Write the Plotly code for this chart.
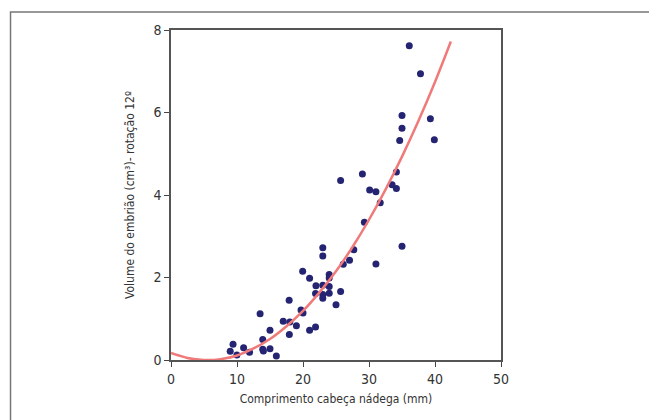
import plotly.graph_objects as go

# Scatter data: crown-rump length (mm) vs embryo volume (cm3)
crl_mm = [36.1, 37.8, 35.0, 39.3, 35.0, 34.65, 39.9, 34.15, 33.5, 34.15,
          29.0, 25.7, 30.1, 31.05, 31.7, 29.3, 27.7, 27.05, 26.1, 31.05,
          35.0, 23.0, 23.0, 19.95, 21.0, 23.97, 23.97, 21.96, 23.0, 23.97,
          23.97, 23.0, 23.0, 21.9, 25.7, 25.0, 17.9, 19.7, 20.0, 13.5,
          17.0, 18.0, 19.0, 17.93, 21.0, 21.9, 15.0, 13.9, 13.9, 14.0,
          15.0, 15.96, 11.0, 11.9, 9.4, 8.97, 9.98]
volume_cm3 = [7.62, 6.94, 5.93, 5.85, 5.62, 5.32, 5.34, 4.56, 4.25, 4.16,
              4.51, 4.35, 4.12, 4.08, 3.81, 3.34, 2.67, 2.42, 2.32, 2.33,
              2.76, 2.72, 2.52, 2.15, 1.98, 2.07, 1.99, 1.80, 1.81, 1.78,
              1.62, 1.59, 1.50, 1.61, 1.66, 1.34, 1.45, 1.21, 1.14, 1.12,
              0.94, 0.92, 0.83, 0.62, 0.72, 0.80, 0.72, 0.50, 0.26, 0.22,
              0.27, 0.10, 0.30, 0.19, 0.38, 0.21, 0.12]

# Fitted curve
fit_x = [0, 2.5, 5, 7.5, 10, 12.5, 15, 17.5, 20, 22.5, 25, 27.5, 30,
         32.5, 35, 37.5, 40, 42.4]
fit_y = [0.17, 0.05, 0.0, 0.02, 0.11, 0.28, 0.51, 0.82, 1.19, 1.64, 2.15,
         2.74, 3.40, 4.13, 4.93, 5.80, 6.74, 7.72]

x_ticks = [0, 10, 20, 30, 40, 50]
y_ticks = [0, 2, 4, 6, 8]

FONT = "DejaVu Sans Condensed, DejaVu Sans, sans-serif"

fig = go.Figure()
fig.add_trace(go.Scatter(
    x=crl_mm, y=volume_cm3, mode="markers",
    marker=dict(color="#242472", size=7, line=dict(width=0)),
    cliponaxis=False, showlegend=False))
fig.add_trace(go.Scatter(
    x=fit_x, y=fit_y, mode="lines", line_shape="spline",
    line=dict(color="#f07a7a", width=2.5),
    cliponaxis=False, showlegend=False))

axis_common = dict(
    showgrid=False, zeroline=False, showline=True, mirror=True,
    linecolor="#555555", linewidth=1.5, ticks="outside", ticklen=5,
    tickwidth=1, tickcolor="#444444",
    tickfont=dict(family=FONT, size=14, color="#333333"),
)

fig.update_xaxes(range=[0, 50], tickvals=x_ticks,
                 title=dict(text="Comprimento cabeça nádega (mm)",
                            font=dict(family=FONT, size=12, color="#333333"),
                            standoff=9),
                 **axis_common)
fig.update_yaxes(range=[0, 8], tickvals=y_ticks,
                 title=dict(text="Volume do embrião (cm³)- rotação 12º",
                            font=dict(family=FONT, size=12, color="#333333"),
                            standoff=16),
                 **axis_common)

# outer frame (left and top edges visible)
fig.add_shape(type="rect", xref="paper", yref="paper",
              x0=-0.4863, x1=2.0, y0=-1.0, y1=1.0545,
              line=dict(color="#777777", width=1.5), layer="below")

fig.update_layout(
    width=649, height=412,
    margin=dict(l=163, r=156, t=22, b=60),
    paper_bgcolor="white", plot_bgcolor="white",
    showlegend=False,
)

fig.write_html("out.html")
